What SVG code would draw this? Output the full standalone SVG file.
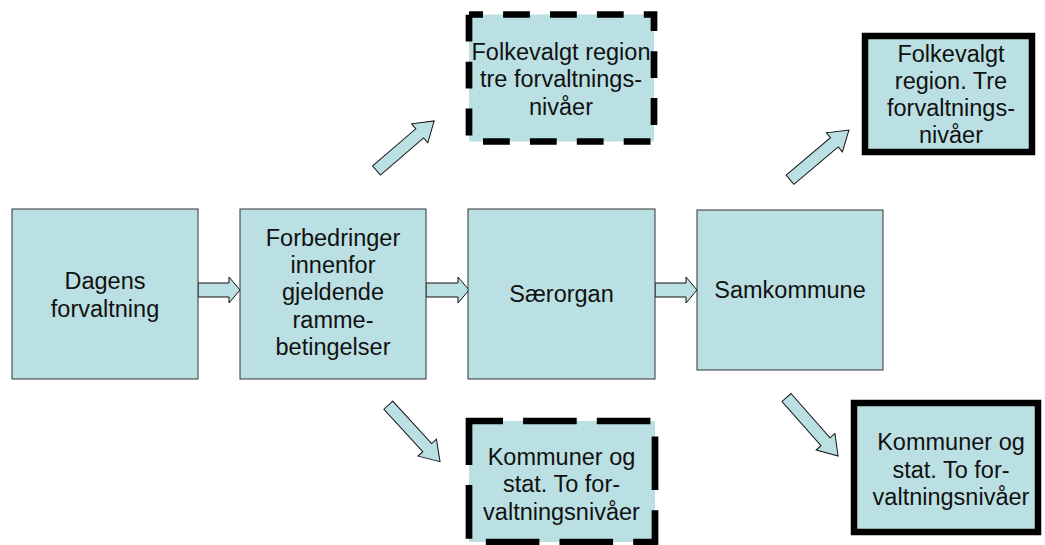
<svg xmlns="http://www.w3.org/2000/svg" width="1045" height="545" viewBox="0 0 1045 545">
<style>
.box{fill:#BBE0E3;stroke:#333;stroke-width:1}
.dash{fill:#BBE0E3;stroke:#000;stroke-width:6.7;stroke-dasharray:26.8 20.1}
.ldash{fill:#BBE0E3;stroke:#000;stroke-width:6.7;stroke-dasharray:53.6 20.1}
.thick{fill:#BBE0E3;stroke:#000;stroke-width:6.5}
.arr{fill:#BBE0E3;stroke:#111;stroke-width:1;stroke-linejoin:miter}
text{font-family:"Liberation Sans",Arial,sans-serif;font-size:23.5px;fill:#111;text-anchor:middle}
</style>
<rect width="1045" height="545" fill="#fff"/>
<g id="connectors">
<polygon class="arr" points="198,283 229,283 229,277 240,290 229,303 229,297 198,297"/>
<polygon class="arr" points="426,283 458,283 458,277 469,290 458,303 458,297 426,297"/>
<polygon class="arr" points="655,283 686,283 686,277 697,290 686,303 686,297 655,297"/>
<polygon class="arr" transform="translate(376.5,170.5) rotate(-40.7)" points="0,-6 57,-6 57,-12.5 76,0 57,12.5 57,6 0,6"/>
<polygon class="arr" transform="translate(388.3,405.2) rotate(47.5)" points="0,-6 57.6,-6 57.6,-12.5 76.6,0 57.6,12.5 57.6,6 0,6"/>
<polygon class="arr" transform="translate(790,179.7) rotate(-40.1)" points="0,-6 58,-6 58,-12.5 77,0 58,12.5 58,6 0,6"/>
<polygon class="arr" transform="translate(786.5,397.5) rotate(48.6)" points="0,-6 59,-6 59,-12.5 78,0 59,12.5 59,6 0,6"/>
</g>
<g id="dagens">
<rect class="box" x="12" y="209" width="186" height="170"/>
<text x="105"><tspan x="105" y="289.3">Dagens</tspan><tspan x="105" y="317.3">forvaltning</tspan></text>
</g>
<g id="forbedringer">
<rect class="box" x="240" y="209" width="186" height="170"/>
<text x="333"><tspan x="333" y="245.7">Forbedringer</tspan><tspan x="333" y="273">innenfor</tspan><tspan x="333" y="300.3">gjeldende</tspan><tspan x="333" y="327.7">ramme-</tspan><tspan x="333" y="355">betingelser</tspan></text>
</g>
<g id="saerorgan">
<rect class="box" x="468" y="209" width="187" height="170"/>
<text x="561.5" y="301.7">Særorgan</text>
</g>
<g id="samkommune">
<rect class="box" x="697" y="210" width="186" height="160"/>
<text x="790" y="298.3">Samkommune</text>
</g>
<g id="folkevalgt-dashed">
<rect class="dash" x="469" y="14.5" width="185" height="127" stroke-dashoffset="12.8"/>
<text x="561"><tspan x="561" y="60">Folkevalgt region</tspan><tspan x="561" y="87.3">tre forvaltnings-</tspan><tspan x="561" y="114.6">nivåer</tspan></text>
</g>
<g id="kommuner-dashed">
<rect class="ldash" x="469" y="421" width="186" height="121" stroke-dashoffset="19.6"/>
<text x="561.5"><tspan x="561.5" y="465">Kommuner og</tspan><tspan x="561.5" y="492.3">stat. To for-</tspan><tspan x="561.5" y="519.6">valtningsnivåer</tspan></text>
</g>
<g id="folkevalgt-solid">
<rect class="thick" x="865" y="36" width="167" height="116"/>
<text x="951"><tspan x="951" y="61.5">Folkevalgt</tspan><tspan x="951" y="88.8">region. Tre</tspan><tspan x="951" y="116.1">forvaltnings-</tspan><tspan x="951" y="143.4">nivåer</tspan></text>
</g>
<g id="kommuner-solid">
<rect class="thick" x="854" y="403" width="184" height="129"/>
<text x="951"><tspan x="951" y="450">Kommuner og</tspan><tspan x="951" y="478.3">stat. To for-</tspan><tspan x="951" y="505">valtningsnivåer</tspan></text>
</g>
</svg>
